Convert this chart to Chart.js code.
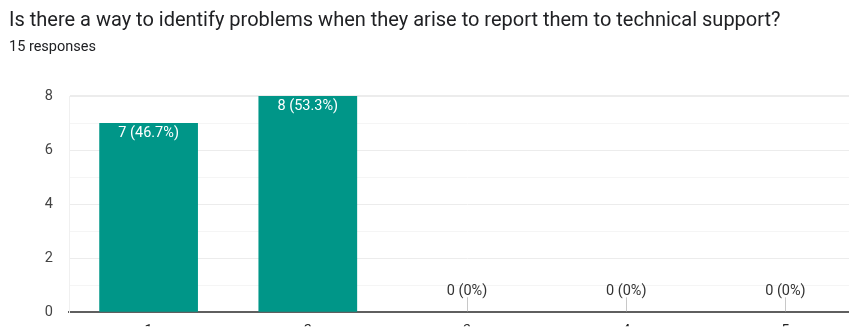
<!DOCTYPE html>
<html><head><meta charset="utf-8">
<script src="https://cdn.jsdelivr.net/npm/chart.js@4/dist/chart.umd.min.js"></script>
<style>
html,body{margin:0;padding:0;background:#fff;overflow:hidden;width:849px;height:332px;}
#title{position:absolute;left:9px;top:7px;font:20px Roboto, sans-serif;color:#202124;white-space:nowrap;}
#sub{position:absolute;left:9px;top:38px;font:14.5px Roboto, sans-serif;color:#202124;white-space:nowrap;}
#wrap{position:absolute;left:0;top:0;width:865px;height:337px;}
</style></head><body>
<div id="wrap"><canvas id="c"></canvas></div>
<div id="title">Is there a way to identify problems when they arise to report them to technical support?</div>
<div id="sub">15 responses</div>
<script>
const categories = ["1","2","3","4","5"];
const counts = [7,8,0,0,0];
const pointLabels = ["7 (46.7%)","8 (53.3%)","0 (0%)","0 (0%)","0 (0%)"];
const yTicks = [0,2,4,6,8];

const labelPlugin = {
  id:'barLabels',
  afterDatasetsDraw(chart){
    const ctx = chart.ctx;
    const meta = chart.getDatasetMeta(0);
    const yScale = chart.scales.y;
    ctx.save();
    ctx.font = '14.5px Roboto, sans-serif';
    ctx.textAlign = 'center';
    meta.data.forEach((bar,i)=>{
      const v = counts[i];
      if (v > 0) {
        ctx.fillStyle = '#ffffff';
        ctx.textBaseline = 'middle';
        ctx.fillText(pointLabels[i], bar.x, bar.y + 10);
      } else {
        const base = yScale.getPixelForValue(0);
        ctx.strokeStyle = '#c8c8c8';
        ctx.lineWidth = 1;
        ctx.beginPath();
        ctx.moveTo(Math.round(bar.x)+0.5, base - 1);
        ctx.lineTo(Math.round(bar.x)+0.5, base - 15);
        ctx.stroke();
        ctx.fillStyle = '#333333';
        ctx.textBaseline = 'middle';
        ctx.fillText(pointLabels[i], bar.x, base - 21);
      }
    });
    ctx.restore();
  }
};

new Chart(document.getElementById('c'), {
  type:'bar',
  data:{labels:categories, datasets:[{data:counts, backgroundColor:'#009688', borderWidth:0, barPercentage:0.62, categoryPercentage:1}]},
  options:{
    responsive:true, maintainAspectRatio:false, animation:false,
    layout:{padding:{top:96,right:0,bottom:0,left:0}},
    plugins:{legend:{display:false}, tooltip:{enabled:false}},
    scales:{
      x:{
        grid:{display:false, drawTicks:false},
        border:{display:true,color:'#5f5f5f',width:2},
        ticks:{color:'#222',font:{family:'Roboto',size:14.5},padding:10},
        afterFit(s){s.height=14;}
      },
      y:{
        min:0,max:8,
        afterBuildTicks(s){ s.ticks = [0,1,2,3,4,5,6,7,8].map(v=>({value:v})); },
        grid:{drawTicks:false, color(c){ return c.tick.value%2===0 ? '#ececec' : '#f5f5f5'; }, lineWidth(c){return c.tick.value===8?2:1;}},
        border:{display:true,color:'#f0f0f0',width:1},
        ticks:{color:'#444',font:{family:'Roboto',size:14.5},padding:16,
          callback(v){ return yTicks.includes(v) ? String(v) : ''; }},
        afterFit(s){s.width=69;}
      }
    }
  },
  plugins:[labelPlugin]
});
</script>
</body></html>
